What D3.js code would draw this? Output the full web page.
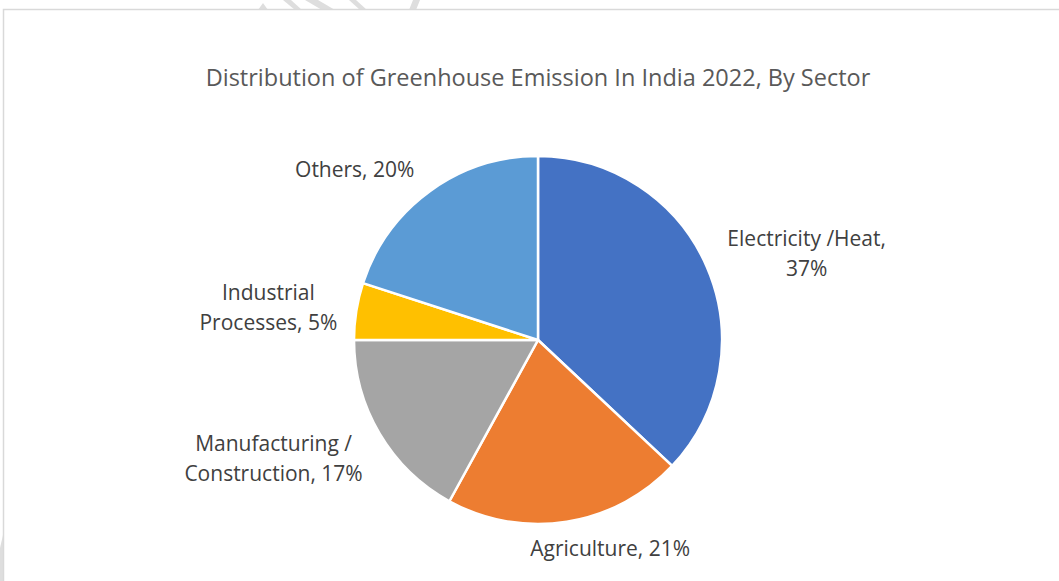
<!DOCTYPE html>
<html>
<head>
<meta charset="utf-8">
<script src="https://cdn.jsdelivr.net/npm/d3@7"></script>
<style>
  body { margin: 0; background: #fff; }
  svg { display: block; }
</style>
</head>
<body>
<svg width="1059" height="581"></svg>
<script>
// sectors, clockwise from 12 o'clock
var sectors = ["Electricity /Heat", "Agriculture", "Manufacturing / Construction", "Industrial Processes", "Others"];
var shares = [37, 21, 17, 5, 20];
var colors = ["#4472C4", "#ED7D31", "#A5A5A5", "#FFC000", "#5B9BD5"];
// how each label is broken into lines
var labelLines = [
  ["Electricity /Heat,", "37%"],
  ["Agriculture, 21%"],
  ["Manufacturing /", "Construction, 17%"],
  ["Industrial", "Processes, 5%"],
  ["Others, 20%"]
];
// small nudges so labels sit where excel put them
var labelNudge = [[16, 4], [29, 1], [-19, 4], [-8, 3], [-33, 1]];

var data = sectors.map((s, i) => ({name: s, value: shares[i], color: colors[i], lines: labelLines[i], nudge: labelNudge[i]}));

var svg = d3.select("svg");
var cx = 538, cy = 340, r = 184;

// watermark bits peeking out round the chart frame
var wm = [
  [[258,10],[263,3],[268,10]],
  [[283,0],[291,0],[302,10],[295,10]],
  [[305,0],[318,0],[335,10],[322,10]],
  [[349,0],[356,0],[367,10],[360,10]],
  [[409,10],[413,0],[420,0],[416,10]],
  [[0,548],[3,535],[3,581],[0,581]]
];
svg.selectAll(".wm").data(wm).enter().append("polygon")
  .attr("class", "wm")
  .attr("points", d => d.map(p => p.join(",")).join(" "))
  .attr("fill", "#dedede");

// chart frame
svg.append("rect")
  .attr("x", 3.5).attr("y", 9.5)
  .attr("width", 1070).attr("height", 600)
  .attr("fill", "#fff")
  .attr("stroke", "#d9d9d9")
  .attr("stroke-width", 1.5);

svg.append("text")
  .attr("x", cx).attr("y", 86)
  .attr("text-anchor", "middle")
  .attr("font-family", "'Open Sans', sans-serif")
  .attr("font-size", 23.5)
  .attr("fill", "#595959")
  .text("Distribution of Greenhouse Emission In India 2022, By Sector");

var pie = d3.pie().value(d => d.value).sort(null);
var arc = d3.arc().innerRadius(0).outerRadius(r);
var arcs = pie(data);

var g = svg.append("g").attr("transform", `translate(${cx},${cy})`);

g.selectAll("path")
  .data(arcs)
  .enter()
  .append("path")
  .attr("d", arc)
  .attr("fill", d => d.data.color)
  .attr("stroke", "#fff")
  .attr("stroke-width", 2.5)
  .attr("stroke-linejoin", "round");

var lineH = 30;
var labels = g.selectAll(".lbl")
  .data(arcs)
  .enter()
  .append("text")
  .attr("class", "lbl")
  .attr("text-anchor", "middle")
  .attr("font-family", "'Open Sans', sans-serif")
  .attr("font-size", 21)
  .attr("fill", "#404040");

labels.each(function(d) {
  var t = d3.select(this);
  d.data.lines.forEach((ln, i) => {
    t.append("tspan").attr("x", 0).attr("dy", i === 0 ? 0 : lineH).text(ln);
  });
  // outside end: anchor just past the rim, then push box away from it
  var a = (d.startAngle + d.endAngle) / 2;
  var px = Math.sin(a) * (r + 12), py = -Math.cos(a) * (r + 12);
  var w = d3.max(t.selectAll("tspan").nodes(), n => n.getComputedTextLength());
  var h = d.data.lines.length * lineH;
  var x = px + Math.sin(a) * w / 2 + d.data.nudge[0];
  var y = py - Math.cos(a) * h / 2 + d.data.nudge[1];
  var top = y - h / 2 + lineH / 2 + 7;
  t.attr("transform", `translate(${x},${top})`);
});
</script>
</body>
</html>
